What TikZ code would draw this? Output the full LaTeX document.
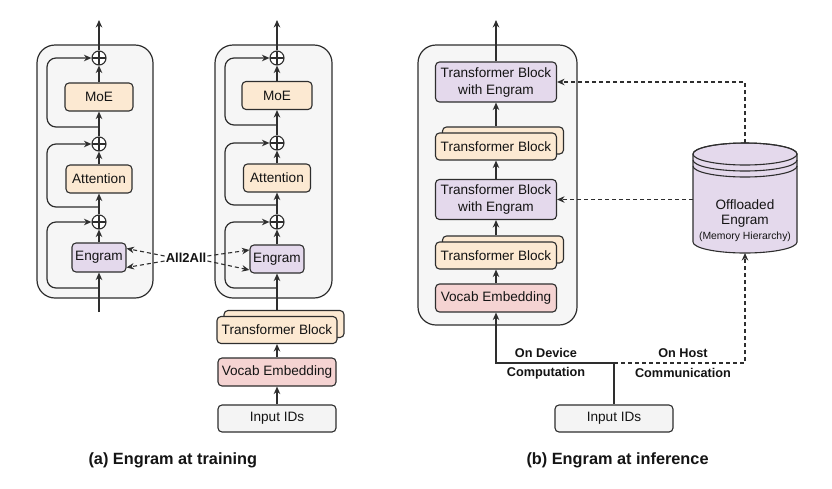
\documentclass[tikz,border=0pt]{standalone}
\usepackage{fontspec}
\setmainfont{Liberation Sans}
\usetikzlibrary{arrows.meta}
\definecolor{peach}{HTML}{FCE9D2}
\definecolor{lilac}{HTML}{E4D9EC}
\definecolor{rose}{HTML}{F5D3D2}
\definecolor{pale}{HTML}{F4F4F4}
\definecolor{contfill}{HTML}{F6F6F6}
\definecolor{edge}{HTML}{2E2E2E}
\begin{document}
\begin{tikzpicture}[x=1pt,y=-1pt,
  every node/.style={font=\fontsize{13.6}{17}\selectfont, text=black!92},
  blk/.style={draw=edge, line width=1.1pt, rounded corners=4pt, inner sep=0pt, align=center},
  cbox/.style={draw=edge, line width=1.2pt, rounded corners=18pt, fill=contfill, inner sep=0pt},
  plus/.style={circle, draw=edge, line width=1.1pt, fill=white, minimum size=14pt, inner sep=0pt,
    path picture={\draw[edge, line width=1.1pt] (path picture bounding box.north) -- (path picture bounding box.south)
      (path picture bounding box.west) -- (path picture bounding box.east);}},
  arr/.style={draw=edge, line width=1.2pt, -{Stealth[length=7.5pt,width=6.5pt]}},
  darr/.style={draw=edge, line width=1.1pt, dash pattern=on 4pt off 3pt, -{Stealth[length=7.5pt,width=6.5pt]}},
  lbl/.style={font=\fontsize{12.7}{15}\selectfont\bfseries},
  captxt/.style={font=\fontsize{16.3}{19}\selectfont\bfseries, anchor=west}
]
\useasboundingbox[fill=white] (0,0) rectangle (832,488);

% ---------------- (a) left column ----------------
\node[cbox, minimum width=116pt, minimum height=253pt] (c1) at (95,171.5) {};
\node[blk, fill=peach, minimum width=68pt, minimum height=28pt] (moe1) at (99,97) {MoE};
\node[blk, fill=peach, minimum width=66pt, minimum height=28pt] (att1) at (99,179) {Attention};
\node[blk, fill=lilac, minimum width=54pt, minimum height=29pt] (eng1) at (99,257.5) {Engram};
\node[plus] (p1a) at (99,58) {};
\node[plus] (p1b) at (99,144) {};
\node[plus] (p1c) at (99,222) {};
\coordinate (top1) at (99,20);
\coordinate (bot1) at (99,312);
\coordinate (l1a) at (99,127);
\coordinate (l1b) at (99,207);
\coordinate (l1c) at (99,288);
\draw[arr] (bot1) -- (eng1.south);
\draw[arr] (eng1.north) -- (p1c.south);
\draw[arr] (p1c.north) -- (att1.south);
\draw[arr] (att1.north) -- (p1b.south);
\draw[arr] (p1b.north) -- (moe1.south);
\draw[arr] (moe1.north) -- (p1a.south);
\draw[arr] (p1a.north) -- (top1);
\draw[arr, rounded corners=9pt] (l1a) -- ++(-52,0) |- (p1a.west);
\draw[arr, rounded corners=9pt] (l1b) -- ++(-52,0) |- (p1b.west);
\draw[arr, rounded corners=9pt] (l1c) -- ++(-52,0) |- (p1c.west);

% ---------------- (a) right column ----------------
\node[cbox, minimum width=117pt, minimum height=253pt] (c2) at (273.5,171.5) {};
\node[blk, fill=peach, minimum width=70pt, minimum height=28pt] (moe2) at (277,95.5) {MoE};
\node[blk, fill=peach, minimum width=67pt, minimum height=28pt] (att2) at (277,178) {Attention};
\node[blk, fill=lilac, minimum width=54pt, minimum height=28pt] (eng2) at (277,259) {Engram};
\node[plus] (p2a) at (277,58) {};
\node[plus] (p2b) at (277,143) {};
\node[plus] (p2c) at (277,222) {};
\coordinate (top2) at (277,20);
\coordinate (l2a) at (277,125);
\coordinate (l2b) at (277,205);
\coordinate (l2c) at (277,288);
\node[blk, fill=peach, minimum width=120pt, minimum height=27pt] (tbb2) at (284,324) {};
\node[blk, fill=peach, minimum width=120pt, minimum height=27pt] (tbf2) at (277,330) {Transformer Block};
\node[blk, fill=rose, minimum width=118pt, minimum height=28pt] (voc2) at (277,372) {Vocab Embedding};
\node[blk, fill=pale, minimum width=118pt, minimum height=27pt] (in2) at (277,418.5) {Input IDs};
\draw[arr] (in2.north) -- (voc2.south);
\draw[arr] (voc2.north) -- (tbf2.south);
\draw[arr] (tbb2.north -| eng2.south) -- (eng2.south);
\draw[arr] (eng2.north) -- (p2c.south);
\draw[arr] (p2c.north) -- (att2.south);
\draw[arr] (att2.north) -- (p2b.south);
\draw[arr] (p2b.north) -- (moe2.south);
\draw[arr] (moe2.north) -- (p2a.south);
\draw[arr] (p2a.north) -- (top2);
\draw[arr, rounded corners=9pt] (l2a) -- ++(-52,0) |- (p2a.west);
\draw[arr, rounded corners=9pt] (l2b) -- ++(-52,0) |- (p2b.west);
\draw[arr, rounded corners=9pt] (l2c) -- ++(-52,0) |- (p2c.west);

% All2All
\node[font=\fontsize{13}{15}\selectfont\bfseries, inner sep=1pt] (all) at (186,258) {All2All};
\draw[darr] ([yshift=2pt]all.west) -- ([yshift=9pt]eng1.east);
\draw[darr] ([yshift=-3pt]all.west) -- ([yshift=-10pt]eng1.east);
\draw[darr] ([yshift=2pt]all.east) -- ([yshift=9pt]eng2.west);
\draw[darr] ([yshift=-3pt]all.east) -- ([yshift=-11pt]eng2.west);

% ---------------- (b) inference ----------------
\node[cbox, minimum width=159pt, minimum height=280pt] (c3) at (497.5,185) {};
\node[blk, fill=lilac, minimum width=121pt, minimum height=40pt] (tbe1) at (496,82) {Transformer Block\\with Engram};
\node[blk, fill=peach, minimum width=121pt, minimum height=27pt] (tbb3a) at (503,140.5) {};
\node[blk, fill=peach, minimum width=121pt, minimum height=27pt] (tbf3a) at (496,146.5) {Transformer Block};
\node[blk, fill=lilac, minimum width=121pt, minimum height=40pt] (tbe2) at (496,199.5) {Transformer Block\\with Engram};
\node[blk, fill=peach, minimum width=121pt, minimum height=27pt] (tbb3b) at (503,249.5) {};
\node[blk, fill=peach, minimum width=121pt, minimum height=27pt] (tbf3b) at (496,255.5) {Transformer Block};
\node[blk, fill=rose, minimum width=121pt, minimum height=28pt] (voc3) at (496,298) {Vocab Embedding};
\coordinate (top3) at (496,20);
\draw[arr] (voc3.north) -- (tbf3b.south);
\draw[arr] (tbb3b.north -| tbe2.south) -- (tbe2.south);
\draw[arr] (tbe2.north) -- (tbf3a.south);
\draw[arr] (tbb3a.north -| tbe1.south) -- (tbe1.south);
\draw[arr] (tbe1.north) -- (top3);

% cylinder
\path[fill=lilac, draw=edge, line width=1.1pt]
  (693,154) -- (693,242) arc[start angle=180, end angle=360, x radius=52pt, y radius=11pt]
  -- (797,154) arc[start angle=0, end angle=180, x radius=52pt, y radius=11pt] -- cycle;
\draw[edge, line width=1.1pt] (745,154) ellipse[x radius=52pt, y radius=11pt];
\draw[edge, line width=1.1pt] (693,160) arc[start angle=180, end angle=360, x radius=52pt, y radius=11pt];
\draw[edge, line width=1.1pt] (693,166) arc[start angle=180, end angle=360, x radius=52pt, y radius=11pt];
\node (cylt1) at (745,205) {Offloaded};
\node (cylt2) at (745,221) {Engram};
\node[font=\fontsize{10.4}{12}\selectfont] (cylt3) at (745,237) {(Memory Hierarchy)};
\coordinate (cyltop) at (745,143);
\coordinate (cylleft) at (693,199.5);
\coordinate (cylbot) at (745,253);
\draw[darr] (cyltop) |- (tbe1.east);
\draw[darr] (cylleft) -- (tbe2.east);

% bottom connections
\node[blk, fill=pale, minimum width=118pt, minimum height=27pt] (in3) at (614,418.5) {Input IDs};
\coordinate (j1) at (496,363);
\coordinate (j2) at (614,363);
\draw[arr] (in3.north) |- (j1) -- (voc3.south);
\draw[darr] (j2) -| (cylbot);
\node[lbl] (od1) at (546,353) {On Device};
\node[lbl] (od2) at (546,373) {Computation};
\node[lbl] (oh1) at (683,353) {On Host};
\node[lbl] (oh2) at (683,373) {Communication};

% captions
\node[captxt] (capa) at (85,460) {(a) Engram at training};
\node[captxt] (capb) at (523,460) {(b) Engram at inference};
\end{tikzpicture}
\end{document}
